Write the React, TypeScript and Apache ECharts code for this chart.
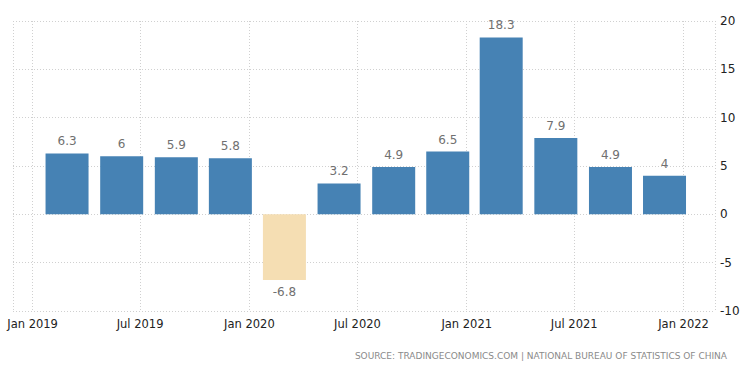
import React, { useEffect, useRef } from "react";
import * as echarts from "echarts";

const quarterDates = [
  "2019-02-28", "2019-05-31", "2019-08-31", "2019-11-30",
  "2020-02-29", "2020-05-31", "2020-08-31", "2020-11-30",
  "2021-02-28", "2021-05-31", "2021-08-31", "2021-11-30",
];
const gdpGrowth = [6.3, 6, 5.9, 5.8, -6.8, 3.2, 4.9, 6.5, 18.3, 7.9, 4.9, 4];
const axisStart = "2018-11-29";
const axisEnd = "2022-02-23";
const monthNames = ["Jan", "Feb", "Mar", "Apr", "May", "Jun", "Jul", "Aug", "Sep", "Oct", "Nov", "Dec"];
const sourceText = "SOURCE: TRADINGECONOMICS.COM | NATIONAL BUREAU OF STATISTICS OF CHINA";

const ts = (s: string) => new Date(s + "T00:00:00").getTime();

export default function App() {
  const ref = useRef<HTMLDivElement>(null);
  useEffect(() => {
    if (!ref.current) return;
    const chart = echarts.init(ref.current, null, { renderer: "svg" });
    const font = "DejaVu Sans, Verdana, sans-serif";
    const minT = ts(axisStart);
    const maxT = ts(axisEnd);
    chart.setOption({
      animation: false,
      grid: { left: 13, right: 35, top: 21, bottom: 62, containLabel: false },
      xAxis: [
        {
          type: "time",
          min: minT,
          max: maxT,
          axisLine: { show: false },
          axisTick: { show: false },
          splitLine: { show: true, lineStyle: { color: "#d0d0d0", type: [1, 2], width: 1 } },
          axisLabel: {
            color: "#222",
            fontSize: 11.5,
            fontFamily: font,
            margin: 7,
            formatter: (v: number) => {
              const d = new Date(v);
              return `${monthNames[d.getMonth()]} ${d.getFullYear()}`;
            },
          },
        },
        {
          type: "value",
          min: minT,
          max: maxT,
          show: false,
          position: "bottom",
        },
      ],
      yAxis: {
        type: "value",
        position: "right",
        min: -10,
        max: 20,
        interval: 5,
        axisLine: { show: false },
        axisTick: { show: false },
        splitLine: { show: true, lineStyle: { color: "#d0d0d0", type: [1, 2], width: 1 } },
        axisLabel: { color: "#222", fontSize: 12, fontFamily: font, margin: 5 },
      },
      series: [
        {
          type: "bar",
          xAxisIndex: 1,
          barWidth: 43,
          data: quarterDates.map((d, i) => {
            const v = gdpGrowth[i];
            return {
              value: [ts(d), v],
              itemStyle: { color: v < 0 ? "#F5DEB3" : "#4682B4" },
              label: { position: v < 0 ? "bottom" : "top" },
            };
          }),
          label: {
            show: true,
            color: "#707070",
            fontSize: 12,
            fontFamily: font,
            distance: 6,
            formatter: (p: any) => String(p.value[1]),
          },
        },
      ],
      graphic: [
        {
          type: "text",
          right: 23,
          top: 351,
          style: {
            text: sourceText,
            fill: "#8a8a8a",
            font: `9px ${font}`,
          },
        },
      ],
    });
    return () => chart.dispose();
  }, []);
  return (
    <div
      ref={ref}
      style={{ position: "fixed", left: 0, top: 0, width: 750, height: 373, background: "#fff" }}
    />
  );
}
